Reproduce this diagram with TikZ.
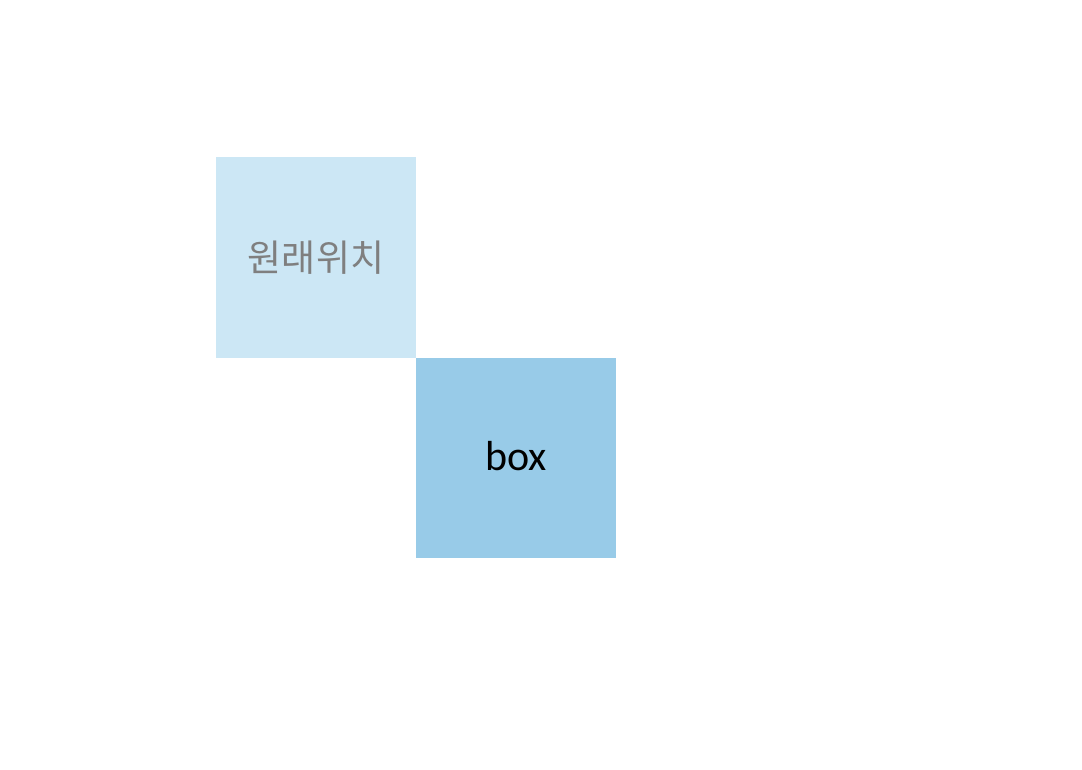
\documentclass[tikz,border=0pt]{standalone}
\usepackage{fontspec}
\setmainfont{Carlito}
\newfontfamily\cjk{Noto Sans CJK KR}
\definecolor{lightbox}{HTML}{CCE7F5}
\definecolor{darkbox}{HTML}{98CBE8}
\definecolor{graytext}{HTML}{7F7F7F}
\begin{document}
\begin{tikzpicture}[x=1pt,y=-1pt,
  sq/.style={minimum width=200pt,minimum height=200pt,inner sep=0pt,outer sep=0pt,anchor=north west}]
\useasboundingbox[fill=white] (0,0) rectangle (1082,770);
\node[sq,fill=lightbox,text=graytext,font=\cjk\fontsize{37}{44}\selectfont] (orig) at (216,157.5) {\raisebox{2pt}{원래위치}};
\node[sq,fill=darkbox,text=black,font=\fontsize{42}{50}\selectfont] (box) at (416,357.5) {\raisebox{4pt}{box}};
\end{tikzpicture}
\end{document}
